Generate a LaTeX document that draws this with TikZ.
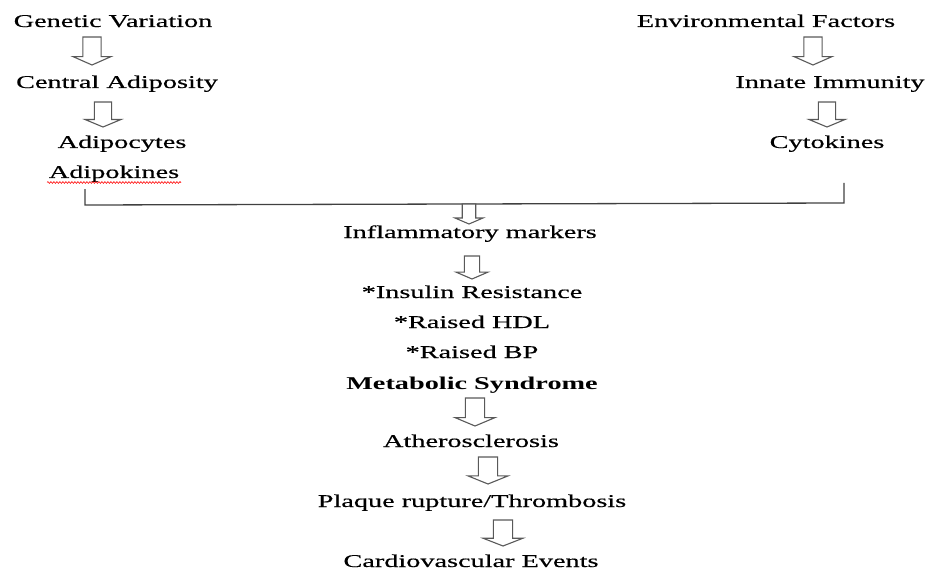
\documentclass[tikz,border=0pt]{standalone}
\usepackage{fontspec}
\setmainfont{Liberation Serif}[FakeStretch=1.57, FakeBold=0.4, BoldFeatures={FakeBold=0}]
\usetikzlibrary{decorations.pathmorphing}
\newcommand{\hollowarrow}[5]{% name, x center, y top, length, half head width
  \draw[arrowline] (#2-#5*0.48,#3) coordinate (#1) -- (#2+#5*0.48,#3)
    -- (#2+#5*0.48,#3+#4*0.7) -- (#2+#5,#3+#4*0.7) -- (#2,#3+#4)
    -- (#2-#5,#3+#4*0.7) -- (#2-#5*0.48,#3+#4*0.7) -- cycle;}
\tikzset{
  lbl/.style={anchor=base, inner sep=0pt, font=\fontsize{18}{20}\selectfont, text=black},
  arrowline/.style={draw=black!65, line width=1.1pt, fill=white, line join=miter},
  brace/.style={draw=black!75, line width=1.3pt}
}
\begin{document}
\begin{tikzpicture}[x=1pt,y=-1pt]
\useasboundingbox (0,0) rectangle (928,572);
% left column
\node[lbl] (gv) at (113,27) {Genetic Variation};
\node[lbl] (ca) at (117,88) {Central Adiposity};
\node[lbl] (ac) at (122,148) {Adipocytes};
\node[lbl] (ak) at (114,178) {Adipokines};
\hollowarrow{a1}{92}{37}{28}{19}
\hollowarrow{a2}{103}{102}{25}{18}
\draw[red, line width=0.6pt, decorate, decoration={snake, amplitude=0.9pt, segment length=3pt}]
  (47,182.5) -- (181,182.5);
% right column
\node[lbl] (ef) at (766,27) {Environmental Factors};
\node[lbl] (ii) at (830,88) {Innate Immunity};
\node[lbl] (ck) at (827,148) {Cytokines};
\hollowarrow{a3}{813}{37}{28}{19}
\hollowarrow{a4}{827}{102}{25}{18}
% bracket
\coordinate (bl) at (85,189);
\coordinate (br) at (844,183);
\draw[brace] (bl) -- (85,205) -- (844,203) -- (br);
% centre column
\hollowarrow{a5}{469}{204}{20}{14}
\node[lbl] (im) at (470,238) {Inflammatory markers};
\hollowarrow{a6}{472}{256}{23}{16}
\node[lbl] (ir) at (472,298) {*Insulin Resistance};
\node[lbl] (hdl) at (472,328) {*Raised HDL};
\node[lbl] (bp) at (472,358) {*Raised BP};
\node[lbl, font=\fontsize{18}{20}\selectfont\bfseries] (ms) at (472,389) {Metabolic Syndrome};
\hollowarrow{a7}{475}{398}{28}{20}
\node[lbl] (at) at (471,447) {Atherosclerosis};
\hollowarrow{a8}{488}{457}{27}{20}
\node[lbl] (pr) at (472,507) {Plaque rupture/Thrombosis};
\hollowarrow{a9}{503}{520}{26}{20}
\node[lbl] (cv) at (471,567) {Cardiovascular Events};
\end{tikzpicture}
\end{document}
